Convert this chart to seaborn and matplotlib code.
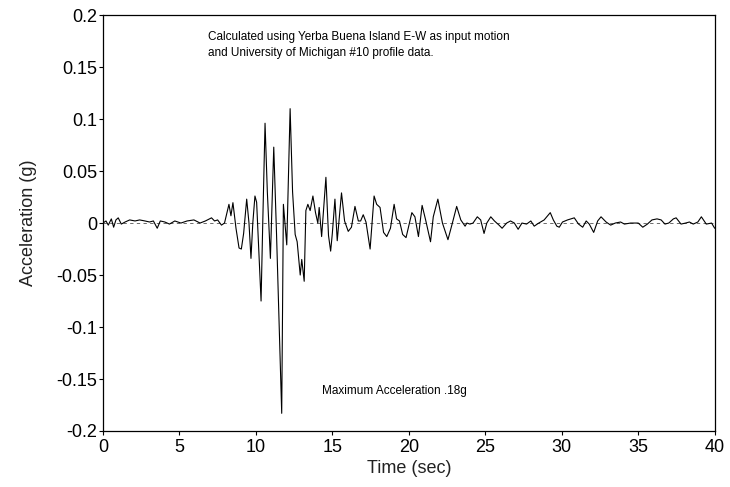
import numpy as np
import pandas as pd
import seaborn as sns
import matplotlib
matplotlib.use("Agg")
import matplotlib.pyplot as plt

time_s = [
    0.0, 0.2, 0.35, 0.55, 0.7, 0.85, 1.0, 1.2, 1.45, 1.75, 2.1, 2.4, 2.75, 3.05,
    3.3, 3.55, 3.75, 4.05, 4.35, 4.7, 5.1, 5.5, 5.95, 6.35, 6.7, 7.1, 7.3, 7.5,
    7.75, 7.95, 8.24, 8.37, 8.50, 8.7, 8.9, 9.05, 9.2, 9.40, 9.55, 9.68, 9.8,
    9.94, 10.05, 10.34, 10.45, 10.6, 10.75, 10.95, 11.17, 11.35, 11.69, 11.8,
    12.02, 12.24, 12.4, 12.57, 12.7, 12.9, 13.0, 13.16, 13.27, 13.4, 13.55,
    13.73, 13.9, 14.05, 14.14, 14.3, 14.58, 14.75, 14.89, 15.0, 15.17, 15.32,
    15.6, 15.8, 16.04, 16.25, 16.48, 16.7, 16.85, 17.02, 17.2, 17.47, 17.73,
    17.9, 18.12, 18.35, 18.56, 18.8, 19.04, 19.2, 19.39, 19.6, 19.82, 20.2,
    20.4, 20.63, 20.87, 21.1, 21.42, 21.6, 21.9, 22.2, 22.56, 22.85, 23.13,
    23.4, 23.68, 23.8, 24.0, 24.2, 24.48, 24.7, 24.92, 25.1, 25.36, 25.6, 25.9,
    26.1, 26.4, 26.65, 26.9, 27.15, 27.4, 27.7, 27.98, 28.2, 28.5, 28.85,
    29.25, 29.45, 29.68, 29.84, 30.05, 30.38, 30.82, 31.1, 31.37, 31.6, 31.8,
    32.09, 32.35, 32.57, 32.9, 33.2, 33.5, 33.85, 34.1, 34.5, 35.0, 35.3, 35.6,
    35.9, 36.23, 36.5, 36.75, 37.0, 37.3, 37.48, 37.8, 38.1, 38.35, 38.6, 38.9,
    39.13, 39.45, 39.8, 40.0,
]
accel_g = [
    0.0, 0.002, -0.002, 0.004, -0.004, 0.003, 0.005, -0.001, 0.001, 0.003,
    0.002, 0.003, 0.002, 0.001, 0.002, -0.005, 0.002, 0.001, -0.001, 0.002,
    0.0, 0.002, 0.003, 0.0, 0.002, 0.005, 0.002, 0.003, -0.002, 0.0, 0.018,
    0.007, 0.0196, -0.005, -0.024, -0.025, -0.01, 0.023, 0.0, -0.034, 0.0,
    0.026, 0.02, -0.075, 0.0, 0.096, 0.03, -0.034, 0.073, -0.01, -0.183, 0.018,
    -0.021, 0.110, 0.03, -0.011, -0.018, -0.05, -0.035, -0.056, 0.012, 0.018,
    0.012, 0.026, 0.01, 0.0, 0.015, -0.013, 0.044, -0.012, -0.027, -0.01,
    0.023, -0.017, 0.029, 0.002, -0.008, -0.004, 0.016, 0.002, 0.002, 0.008,
    0.001, -0.025, 0.026, 0.018, 0.015, -0.009, -0.013, -0.005, 0.018, 0.004,
    0.002, -0.011, -0.014, 0.010, 0.006, -0.013, 0.017, 0.003, -0.018, 0.006,
    0.023, 0.0, -0.016, 0.0, 0.016, 0.003, -0.003, 0.0, -0.001, 0.0, 0.006,
    0.003, -0.010, 0.0, 0.006, 0.002, -0.002, -0.005, 0.0, 0.002, 0.0, -0.006,
    0.0, -0.001, 0.002, -0.003, 0.0, 0.003, 0.010, 0.003, -0.003, -0.004,
    0.001, 0.003, 0.005, -0.001, -0.004, 0.002, -0.001, -0.009, 0.002, 0.006,
    0.001, -0.002, 0.0, 0.001, -0.001, 0.0, 0.0, -0.004, -0.001, 0.003, 0.004,
    0.003, -0.001, 0.0, 0.004, 0.005, -0.001, 0.0, 0.001, -0.001, 0.001,
    0.006, -0.001, 0.0, -0.005,
]

x_ticks = [0, 5, 10, 15, 20, 25, 30, 35, 40]
y_ticks = [0.2, 0.15, 0.1, 0.05, 0, -0.05, -0.1, -0.15, -0.2]
y_tick_labels = ["0.2", "0.15", "0.1", "0.05", "0", "-0.05", "-0.1", "-0.15", "-0.2"]

note_top = ("Calculated using Yerba Buena Island E-W as input motion\n"
            "and University of Michigan #10 profile data.")
note_bottom = "Maximum Acceleration .18g"

sns.set_theme(style="ticks")
plt.rcParams["font.family"] = ["Liberation Sans", "DejaVu Sans"]

df = pd.DataFrame({"Time": time_s, "Accel": accel_g})

fig = plt.figure(figsize=(7.3, 4.87), dpi=100)
ax = fig.add_axes([0.141, 0.115, 0.838, 0.854])

ax.axhline(0, color="#555555", linestyle=(0, (4, 4)), linewidth=0.6, zorder=1)
sns.lineplot(data=df, x="Time", y="Accel", estimator=None, sort=False,
             color="black", linewidth=0.8, ax=ax, zorder=2)

ax.set_xlim(0, 40)
ax.set_ylim(-0.2, 0.2)
ax.set_xticks(x_ticks)
ax.set_xticklabels([str(t) for t in x_ticks])
ax.set_yticks(y_ticks)
ax.set_yticklabels(y_tick_labels)
ax.tick_params(direction="out", length=3, width=0.8, labelsize=13, colors="black", pad=1)
ax.tick_params(axis="x", pad=3)

for s in ax.spines.values():
    s.set_visible(True)
    s.set_color("black")
    s.set_linewidth(0.9)

ax.set_xlabel("Time (sec)", fontsize=13, color="#222222", labelpad=3)
ax.set_ylabel("Acceleration (g)", fontsize=13, color="#222222", labelpad=14)

ax.text(6.9, 0.171, note_top, fontsize=8.5, va="center", ha="left",
        linespacing=1.5, color="black")
ax.text(14.3, -0.162, note_bottom, fontsize=8.5, va="center", ha="left", color="black")

fig.savefig("out.png", dpi=100)
